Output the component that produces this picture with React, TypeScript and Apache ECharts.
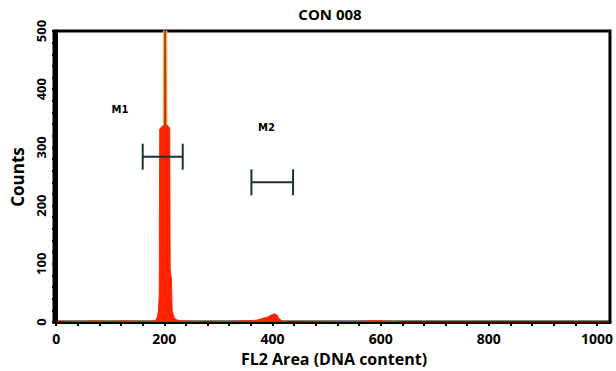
import React, { useEffect, useRef } from "react";
import * as echarts from "echarts";

// Histogram: FL2 channel vs counts
const channels = [0, 50, 70, 100, 130, 160, 178, 184, 187, 189, 190.5, 191.5, 195, 198, 201, 205, 208, 210, 210.8, 213, 214.5, 218, 222, 230, 250, 280, 320, 350, 370, 378, 384, 390, 396, 400, 404, 408, 412, 416, 420, 430, 560, 580, 600, 620, 640, 1023];
const counts = [0, 1, 2, 1, 2, 1, 1, 3, 8, 18, 45, 332, 335, 338, 340, 338, 336, 332, 90, 75, 20, 8, 4, 2, 1, 0, 1, 2, 3, 5, 7, 8, 11, 13, 14, 12, 6, 3, 1, 0, 1, 2, 2, 1, 0, 0];

// Narrow top of the G1 peak (goes off scale)
const spikeChannels = [198, 198.6, 204.4, 205];
const spikeCounts = [338, 540, 540, 338];

const xTickLabels = [0, 200, 400, 600, 800, 1000];
const yTickLabels = [0, 100, 200, 300, 400, 500];

// Markers M1 / M2
const markerNames = ["M1", "M2"];
const markerStart = [160, 361];
const markerEnd = [234, 438];
const markerLevel = [284, 240];
const markerLabelX = [118, 389];
const markerLabelY = [365, 334];

const xMinorStep = 40;
const yMinorStep = 20;

export default function App() {
  const ref = useRef<HTMLDivElement>(null);

  useEffect(() => {
    if (!ref.current) return;
    const chart = echarts.init(ref.current, undefined, { renderer: "svg" });

    const histData = channels.map((c, i) => [c, counts[i]]);
    const spikeData = spikeChannels.map((c, i) => [c, spikeCounts[i]]);
    const markerData = markerNames.map((n, i) => [markerStart[i], markerEnd[i], markerLevel[i], markerLabelX[i], markerLabelY[i]]);

    const xMinor: number[] = [];
    for (let v = 0; v <= 1000; v += xMinorStep) xMinor.push(v);
    const yMinor: number[] = [];
    for (let v = 0; v <= 500; v += yMinorStep) yMinor.push(v);

    const font = "'Open Sans', 'DejaVu Sans', sans-serif";
    const bracketColor = "#1b3333";

    chart.setOption({
      animation: false,
      backgroundColor: "#ffffff",
      grid: {
        left: 54,
        right: 5,
        top: 31,
        bottom: 49,
        show: true,
        borderColor: "#000",
        borderWidth: 3,
        backgroundColor: "transparent",
      },
      xAxis: {
        type: "value",
        min: -4,
        max: 1024,
        splitLine: { show: false },
        axisLine: { show: true, onZero: false, lineStyle: { color: "#000", width: 3 } },
        axisTick: { show: true, customValues: xMinor, length: 4, lineStyle: { color: "#000", width: 2 } },
        axisLabel: {
          customValues: xTickLabels,
          formatter: (v: number) => String(v),
          color: "#000",
          fontSize: 14,
          fontWeight: "bold",
          fontFamily: font,
          margin: 9,
        },
      },
      yAxis: {
        type: "value",
        min: 0,
        max: 500,
        splitLine: { show: false },
        axisLine: { show: true, lineStyle: { color: "#000", width: 3 } },
        axisTick: { show: true, customValues: yMinor, length: 4, lineStyle: { color: "#000", width: 2 } },
        axisLabel: {
          customValues: yTickLabels,
          formatter: (v: number) => String(v),
          rotate: 90,
          color: "#000",
          fontSize: 13,
          fontWeight: "bold",
          fontFamily: font,
          margin: 7,
        },
      },
      graphic: [
        {
          type: "text",
          x: 330,
          y: 14,
          style: { text: "CON 008", fill: "#000", font: `bold 15px ${font}`, align: "center", verticalAlign: "middle" },
        },
        {
          type: "text",
          x: 334,
          y: 359,
          style: { text: "FL2 Area (DNA content)", fill: "#000", font: `bold 16px ${font}`, align: "center", verticalAlign: "middle" },
        },
        {
          type: "text",
          x: 17,
          y: 177,
          rotation: Math.PI / 2,
          style: { text: "Counts", fill: "#000", font: `bold 17px ${font}`, align: "center", verticalAlign: "middle" },
        },
      ],
      series: [
        {
          type: "line",
          data: histData,
          symbol: "none",
          clip: true,
          lineStyle: { color: "#f22a10", width: 1 },
          areaStyle: { color: "#ff2200", opacity: 1 },
          z: 2,
        },
        {
          type: "line",
          data: spikeData,
          symbol: "none",
          clip: true,
          lineStyle: { color: "#f0c838", width: 1.2 },
          areaStyle: { color: "#c4381c", opacity: 1, origin: 338 },
          z: 3,
        },
        {
          type: "custom",
          data: markerData,
          z: 5,
          clip: false,
          renderItem: (params: any, api: any) => {
            const p1 = api.coord([api.value(0), api.value(2)]);
            const p2 = api.coord([api.value(1), api.value(2)]);
            const pl = api.coord([api.value(3), api.value(4)]);
            const h = 13;
            const st = { stroke: bracketColor, lineWidth: 2 };
            return {
              type: "group",
              children: [
                { type: "line", shape: { x1: p1[0], y1: p1[1], x2: p2[0], y2: p2[1] }, style: st },
                { type: "line", shape: { x1: p1[0], y1: p1[1] - h, x2: p1[0], y2: p1[1] + h }, style: st },
                { type: "line", shape: { x1: p2[0], y1: p2[1] - h, x2: p2[0], y2: p2[1] + h }, style: st },
                {
                  type: "text",
                  x: pl[0],
                  y: pl[1],
                  style: {
                    text: markerNames[params.dataIndex],
                    fill: "#000",
                    font: "bold 10px 'DejaVu Sans', sans-serif",
                    align: "center",
                    verticalAlign: "middle",
                  },
                },
              ],
            };
          },
        },
      ],
    });

    return () => chart.dispose();
  }, []);

  return <div ref={ref} style={{ position: "fixed", left: 0, top: 0, width: 616, height: 371 }} />;
}
